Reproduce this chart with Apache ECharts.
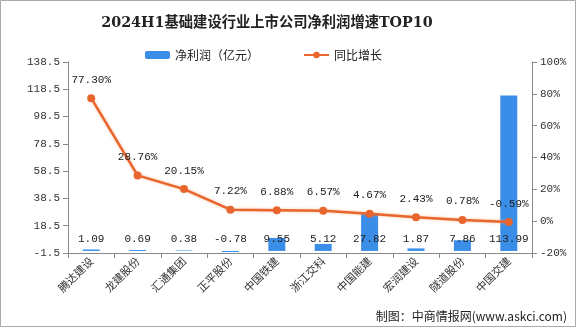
<!DOCTYPE html>
<html><head><meta charset="utf-8">
<script src="https://cdn.jsdelivr.net/npm/echarts@6/dist/echarts.min.js"></script>
<style>html,body{margin:0;padding:0;background:#fff}#c{width:576px;height:327px}</style>
</head><body><div id="c"></div>
<script>
const categories = ['腾达建设','龙建股份','汇通集团','正平股份','中国铁建','浙江交科','中国能建','宏润建设','隧道股份','中国交建'];
const netProfit = [1.09, 0.69, 0.38, -0.78, 9.55, 5.12, 27.82, 1.87, 7.86, 113.99];
const growth = [77.30, 28.76, 20.15, 7.22, 6.88, 6.57, 4.67, 2.43, 0.78, -0.59];
const leftTickLabels = ['-1.5','18.5','38.5','58.5','78.5','98.5','118.5','138.5'];
const rightTickLabels = ['-20%','0%','20%','40%','60%','80%','100%'];

const mono = 'Liberation Mono';
const chart = echarts.init(document.getElementById('c'));
chart.setOption({
  animation: false,
  backgroundColor: '#fff',
  title: {
    text: '2024H1基础建设行业上市公司净利润增速TOP10',
    left: 262, top: 11, textAlign: 'center',
    textStyle: {fontFamily: 'DejaVu Serif, Noto Sans CJK SC', fontWeight: 'bold', fontSize: 14.3, color: '#222'}
  },
  legend: {
    top: 44, left: 140, itemGap: 44, itemWidth: 25, itemHeight: 8,
    textStyle: {fontFamily: 'Noto Sans CJK SC', fontSize: 12, color: '#222'},
    data: ['净利润（亿元）', '同比增长']
  },
  graphic: [
    {type: 'rect', shape: {x: 0.5, y: 0.5, width: 575, height: 326}, style: {fill: 'none', stroke: '#aaa', lineWidth: 1}, silent: true},
    {type: 'text', right: 9, bottom: 5, style: {text: '制图：中商情报网(www.askci.com)', font: '12px "Noto Sans CJK SC"', fill: '#222'}}
  ],
  grid: {left: 68, right: 44, top: 62, bottom: 74},
  xAxis: {
    type: 'category', data: categories,
    axisLine: {onZero: false, lineStyle: {color: '#888'}},
    axisTick: {show: true, alignWithLabel: false, lineStyle: {color: '#888'}},
    axisLabel: {rotate: 45, interval: 0, fontSize: 11, color: '#333', fontFamily: 'Noto Sans CJK SC', margin: 6}
  },
  yAxis: [
    {type: 'value', min: -1.5, max: 138.5, position: 'left',
     axisLine: {show: false}, axisTick: {show: false}, axisLabel: {show: false}, splitLine: {show: false}},
    {type: 'value', min: -20, max: 100, interval: 20, position: 'right',
     axisLine: {show: true, lineStyle: {color: '#888'}}, axisTick: {show: true, lineStyle: {color: '#888'}},
     axisLabel: {formatter: v => rightTickLabels[Math.round((v + 20) / 20)], fontFamily: mono, fontSize: 11, color: '#333'},
     splitLine: {show: false}},
    {type: 'value', min: 0, max: 140, interval: 20, position: 'left',
     axisLine: {show: true, lineStyle: {color: '#888'}}, axisTick: {show: true, lineStyle: {color: '#888'}},
     axisLabel: {formatter: v => leftTickLabels[Math.round(v / 20)], fontFamily: mono, fontSize: 11, color: '#333'},
     splitLine: {show: false}}
  ],
  series: [
    {name: '净利润（亿元）', type: 'bar', yAxisIndex: 0, data: netProfit, barWidth: 17,
     itemStyle: {color: '#3b8ee8'}},
    {name: 'barLabels', type: 'line', yAxisIndex: 0, data: netProfit.map(() => 0),
     lineStyle: {opacity: 0}, symbolSize: 0, showSymbol: true, silent: true, z: 5,
     label: {show: true, position: 'top', distance: 6, fontFamily: mono, fontSize: 11, color: '#222',
             formatter: p => netProfit[p.dataIndex].toFixed(2)}},
    {name: '同比增长', type: 'line', yAxisIndex: 1, data: growth,
     symbol: 'circle', symbolSize: 8,
     itemStyle: {color: '#e8662e'},
     lineStyle: {color: '#e8662e', width: 2.5, shadowColor: 'rgba(240,150,90,0.6)', shadowBlur: 3},
     label: {show: true, position: 'top', distance: 9, fontFamily: mono, fontSize: 11, color: '#222',
             formatter: p => p.value.toFixed(2) + '%'}, z: 4}
  ]
});
</script></body></html>
